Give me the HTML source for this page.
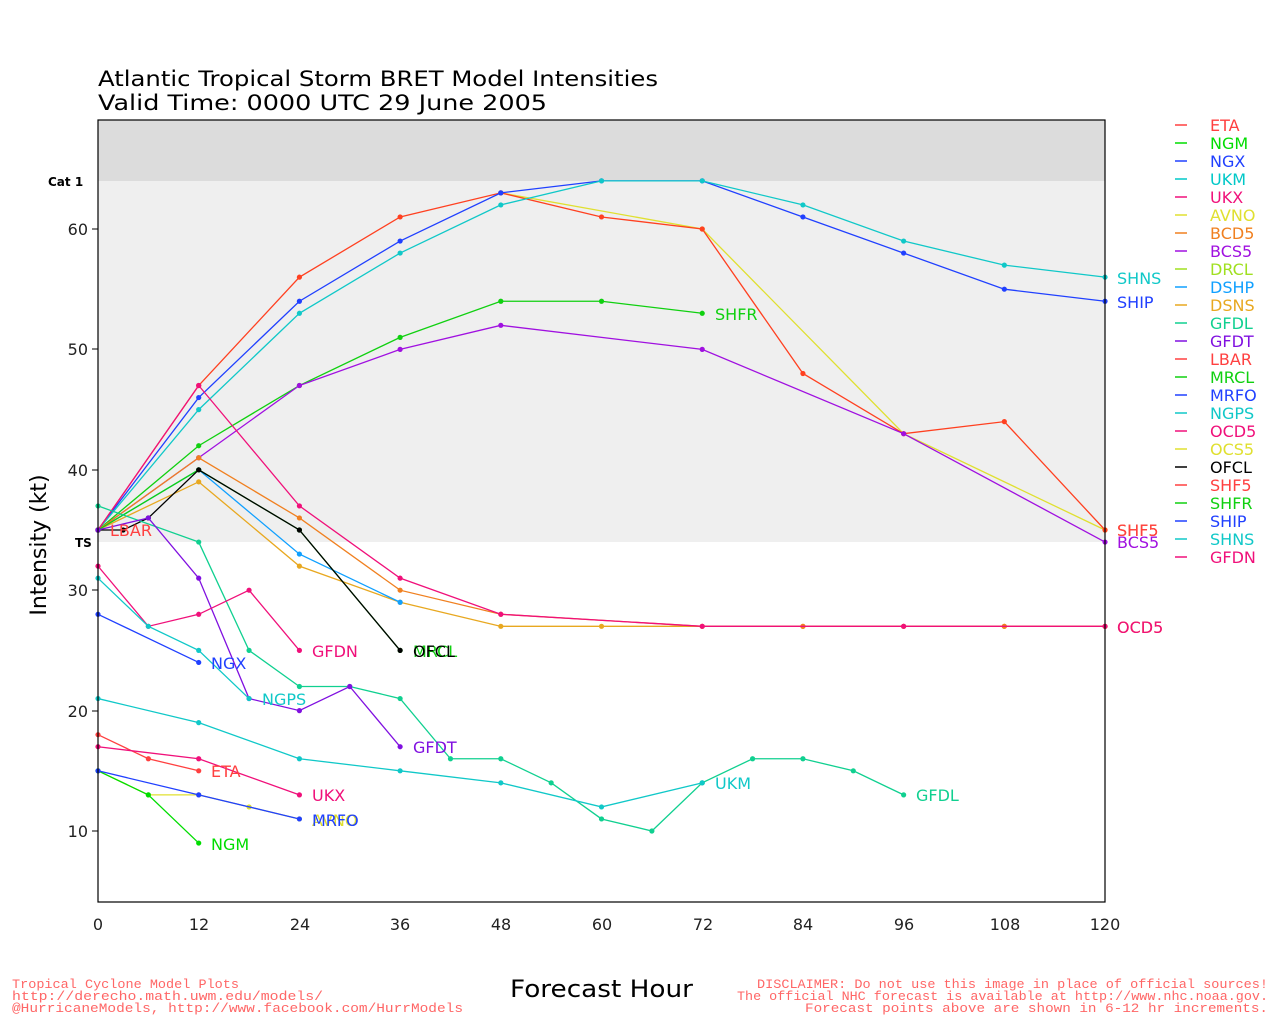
<!DOCTYPE html><html><head><meta charset="utf-8"><style>
body{margin:0;background:#fff}
svg text{font-family:"DejaVu Sans","Liberation Sans",sans-serif}
</style></head><body>
<svg id="s" width="1280" height="1024" xmlns="http://www.w3.org/2000/svg">
<rect x="98" y="120" width="1007" height="61" fill="#dcdcdc"/>
<rect x="98" y="181" width="1007" height="361" fill="#efefef"/>
<g id="lines"></g>
<rect x="98" y="120" width="1007" height="782" fill="none" stroke="#000" stroke-width="1.2"/>
<text x="98" y="86" font-size="21" textLength="560" lengthAdjust="spacingAndGlyphs">Atlantic Tropical Storm BRET Model Intensities</text>
<text x="98" y="110" font-size="21" textLength="449" lengthAdjust="spacingAndGlyphs">Valid Time: 0000 UTC 29 June 2005</text>
<text x="48" y="186" font-size="12" font-weight="bold">Cat 1</text>
<text x="75" y="547" font-size="12" font-weight="bold">TS</text>
<g font-size="16" text-anchor="end" fill="#222">
<text x="88" y="235">60</text><text x="88" y="355">50</text><text x="88" y="476">40</text><text x="88" y="596">30</text><text x="88" y="717">20</text><text x="88" y="837">10</text></g>
<g stroke="#000"><line x1="92" x2="98" y1="229" y2="229"/><line x1="92" x2="98" y1="349" y2="349"/><line x1="92" x2="98" y1="470" y2="470"/><line x1="92" x2="98" y1="590" y2="590"/><line x1="92" x2="98" y1="711" y2="711"/><line x1="92" x2="98" y1="831" y2="831"/></g>
<g font-size="16" text-anchor="middle" fill="#222">
<text x="98" y="930">0</text><text x="199" y="930">12</text><text x="300" y="930">24</text><text x="400" y="930">36</text><text x="501" y="930">48</text><text x="602" y="930">60</text><text x="703" y="930">72</text><text x="803" y="930">84</text><text x="904" y="930">96</text><text x="1005" y="930">108</text><text x="1105" y="930">120</text></g>
<text transform="translate(46,545) rotate(-90)" font-size="22" text-anchor="middle">Intensity (kt)</text>
<text x="510" y="997" font-size="24" textLength="183" lengthAdjust="spacingAndGlyphs">Forecast Hour</text>
<g font-size="13" fill="#ff6666">
<text x="12" y="988" style="font-family:'Liberation Mono',monospace" textLength="227" lengthAdjust="spacingAndGlyphs">Tropical Cyclone Model Plots</text>
<text x="12" y="1000" style="font-family:'Liberation Mono',monospace" textLength="311" lengthAdjust="spacingAndGlyphs">http://derecho.math.uwm.edu/models/</text>
<text x="12" y="1012" style="font-family:'Liberation Mono',monospace" textLength="451" lengthAdjust="spacingAndGlyphs">@HurricaneModels, http://www.facebook.com/HurrModels</text>
<text x="757" y="988" style="font-family:'Liberation Mono',monospace" textLength="511" lengthAdjust="spacingAndGlyphs">DISCLAIMER: Do not use this image in place of official sources!</text>
<text x="737" y="1000" style="font-family:'Liberation Mono',monospace" textLength="531" lengthAdjust="spacingAndGlyphs">The official NHC forecast is available at http://www.nhc.noaa.gov.</text>
<text x="805" y="1012" style="font-family:'Liberation Mono',monospace" textLength="463" lengthAdjust="spacingAndGlyphs">Forecast points above are shown in 6-12 hr increments.</text></g>
<g font-size="16">
<text x="1210" y="131" fill="#ff4040">ETA</text><text x="1210" y="149" fill="#00dd00">NGM</text><text x="1210" y="167" fill="#2040ff">NGX</text><text x="1210" y="185" fill="#00c8c8">UKM</text><text x="1210" y="203" fill="#f0107a">UKX</text><text x="1210" y="221" fill="#e0e030">AVNO</text><text x="1210" y="239" fill="#f08020">BCD5</text><text x="1210" y="257" fill="#a010e0">BCS5</text><text x="1210" y="275" fill="#a0e020">DRCL</text><text x="1210" y="293" fill="#10a0ff">DSHP</text><text x="1210" y="311" fill="#e8a820">DSNS</text><text x="1210" y="329" fill="#10d090">GFDL</text><text x="1210" y="347" fill="#8010e0">GFDT</text><text x="1210" y="365" fill="#ff4040">LBAR</text><text x="1210" y="383" fill="#10d010">MRCL</text><text x="1210" y="401" fill="#2040ff">MRFO</text><text x="1210" y="419" fill="#10c8c8">NGPS</text><text x="1210" y="437" fill="#f0107a">OCD5</text><text x="1210" y="455" fill="#e0e030">OCS5</text><text x="1210" y="473" fill="#000">OFCL</text><text x="1210" y="491" fill="#ff4040">SHF5</text><text x="1210" y="509" fill="#10d010">SHFR</text><text x="1210" y="527" fill="#2040ff">SHIP</text><text x="1210" y="545" fill="#10c8c8">SHNS</text><text x="1210" y="563" fill="#f0107a">GFDN</text>
</g>
<g id="leg"></g>
<g font-size="16">
<text x="1117" y="284" fill="#10c8c8">SHNS</text><text x="1117" y="308" fill="#2040ff">SHIP</text>
<text x="715" y="320" fill="#10d010">SHFR</text>
<text x="1117" y="536" fill="#f08020">SHF5</text><text x="1117" y="536" fill="#ff4040">SHF5</text>
<text x="1117" y="548" fill="#a010e0">BCS5</text>
<text x="1117" y="633" fill="#f08020">OCD5</text><text x="1117" y="633" fill="#f0107a">OCD5</text>
<text x="110" y="536" fill="#ff4040">LBAR</text>
<text x="413" y="657" fill="#10d010">MRCL</text><text x="413" y="657" fill="#000">OFCL</text>
<text x="312" y="657" fill="#f0107a">GFDN</text>
<text x="211" y="669" fill="#2040ff">NGX</text>
<text x="262" y="705" fill="#10c8c8">NGPS</text>
<text x="413" y="753" fill="#8010e0">GFDT</text>
<text x="211" y="777" fill="#ff4040">ETA</text>
<text x="715" y="789" fill="#10c8c8">UKM</text>
<text x="916" y="801" fill="#10d090">GFDL</text>
<text x="312" y="801" fill="#f0107a">UKX</text>
<text x="312" y="826" fill="#e0e030">AVNO</text><text x="312" y="826" fill="#2040ff">MRFO</text>
<text x="211" y="850" fill="#00dd00">NGM</text>
</g>
</svg>
<script>
const X=h=>98+h*8.392, Y=v=>951.4-v*12.04;
const S=[
["#e0e030",[[48,63],[72,60],[96,43],[120,35]]],
["#ff4020",[[0,35],[12,47],[24,56],[36,61],[48,63],[60,61],[72,60],[84,48],[96,43],[108,44],[120,35]]],
["#2040ff",[[0,35],[12,46],[24,54],[36,59],[48,63],[60,64],[72,64],[84,61],[96,58],[108,55],[120,54]]],
["#10c8c8",[[0,35],[12,45],[24,53],[36,58],[48,62],[60,64],[72,64],[84,62],[96,59],[108,57],[120,56]]],
["#10d010",[[0,35],[12,42],[24,47],[36,51],[48,54],[60,54],[72,53]]],
["#a010e0",[[0,35],[12,41],[24,47],[36,50],[48,52],[72,50],[96,43],[120,34]]],
["#e8a820",[[0,35],[12,39],[24,32],[36,29],[48,27],[60,27],[72,27],[84,27],[96,27],[108,27],[120,27]]],
["#10a0ff",[[0,35],[12,40],[24,33],[36,29]]],
["#f08020",[[0,35],[12,41],[24,36],[36,30],[48,28],[72,27],[84,27],[96,27],[108,27],[120,27]]],
["#f0107a",[[0,35],[12,47],[24,37],[36,31],[48,28],[72,27],[96,27],[120,27]]],
["#10d010",[[0,35],[12,40],[24,35],[36,25]]],
["#000000",[[0,35],[3,35],[6,36],[12,40],[24,35],[36,25]]],
["#10d090",[[0,37],[12,34],[18,25],[24,22],[30,22],[36,21],[42,16],[48,16],[54,14],[60,11],[66,10],[72,14],[78,16],[84,16],[90,15],[96,13]]],
["#8010e0",[[0,35],[6,36],[12,31],[18,21],[24,20],[30,22],[36,17]]],
["#f0107a",[[0,32],[6,27],[12,28],[18,30],[24,25]]],
["#10c8c8",[[0,31],[6,27],[12,25],[18,21]]],
["#2040ff",[[0,28],[12,24]]],
["#10c8c8",[[0,21],[12,19],[24,16],[36,15],[48,14],[60,12],[72,14]]],
["#ff4040",[[0,18],[6,16],[12,15]]],
["#f0107a",[[0,17],[12,16],[24,13]]],
["#e0e030",[[0,15],[6,13],[12,13],[18,12],[24,11]]],
["#00dd00",[[0,15],[6,13],[12,9]]],
["#2040ff",[[0,15],[12,13],[24,11]]]];
const ns="http://www.w3.org/2000/svg",g=document.getElementById("lines");
for(const [c,p] of S){const pl=document.createElementNS(ns,"polyline");pl.setAttribute("points",p.map(q=>X(q[0])+","+Y(q[1])).join(" "));pl.setAttribute("fill","none");pl.setAttribute("stroke",c);pl.setAttribute("stroke-width","1.3");g.appendChild(pl);
for(const q of p){const ci=document.createElementNS(ns,"circle");ci.setAttribute("cx",X(q[0]));ci.setAttribute("cy",Y(q[1]));ci.setAttribute("r","2.6");ci.setAttribute("fill",c);g.appendChild(ci);}}
const lc=["#ff4040","#00dd00","#2040ff","#00c8c8","#f0107a","#e0e030","#f08020","#a010e0","#a0e020","#10a0ff","#e8a820","#10d090","#8010e0","#ff4040","#10d010","#2040ff","#10c8c8","#f0107a","#e0e030","#000","#ff4040","#10d010","#2040ff","#10c8c8","#f0107a"];
const lg=document.getElementById("leg");
lc.forEach((c,i)=>{const l=document.createElementNS(ns,"line");const y=125+i*18;l.setAttribute("x1",1175);l.setAttribute("x2",1187);l.setAttribute("y1",y);l.setAttribute("y2",y);l.setAttribute("stroke",c);l.setAttribute("stroke-width","1.5");lg.appendChild(l);});
</script>
</body></html>
